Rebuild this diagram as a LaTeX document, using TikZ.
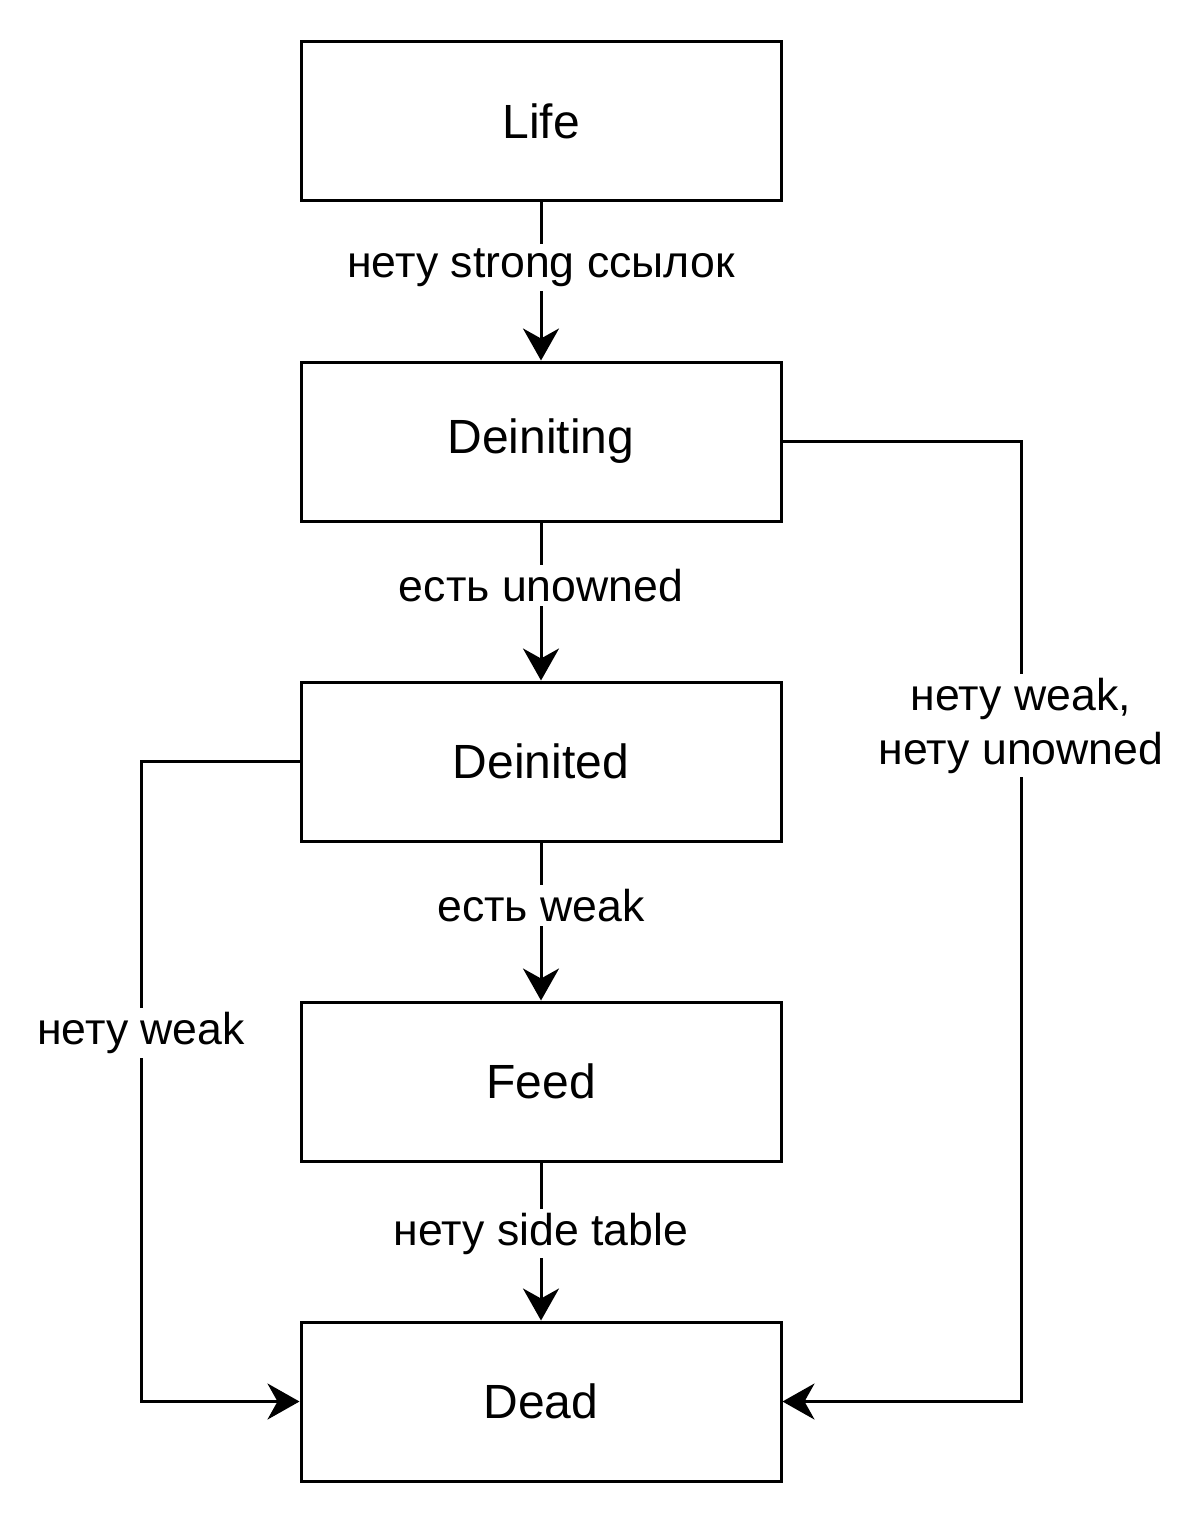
\documentclass[tikz,border=0pt]{standalone}
\usepackage{fontspec}
\setmainfont{Liberation Sans}
\usetikzlibrary{arrows.meta}
\begin{document}
\begin{tikzpicture}[x=0.5pt,y=-0.5pt,
  state/.style={draw,line width=1.5pt,minimum width=240pt,minimum height=79.5pt,inner sep=0pt,font=\fontsize{24}{28}\selectfont},
  conn/.style={line width=1.5pt,-{Stealth[length=16pt,width=18pt,inset=5pt]}},
  lbl/.style={fill=white,inner sep=2pt,font=\fontsize{22.3}{27}\selectfont,align=center}]
\useasboundingbox (0,0) rectangle (1200,1524);
\node[state] (life) at (541,121.5) {Life};
\node[state] (deiniting) at (541,441.5) {Deiniting};
\node[state] (deinited) at (541,761.5) {Deinited};
\node[state] (feed) at (541,1081.5) {Feed};
\node[state] (dead) at (541,1401.5) {Dead};
\draw[conn] (life) -- node[lbl,yshift=7pt] {нету strong ссылок} (deiniting);
\draw[conn] (deiniting) -- node[lbl,yshift=8pt] {есть unowned} (deinited);
\draw[conn] (deinited) -- node[lbl,yshift=8pt] {есть weak} (feed);
\draw[conn] (feed) -- node[lbl,yshift=4pt] {нету side table} (dead);
\coordinate (r1) at (1021,441.5);
\coordinate (r2) at (1021,1401.5);
\draw[conn] (deiniting.east) -- (r1) -- node[lbl,pos=0.3,yshift=2pt] {нету weak,\\нету unowned} (r2) -- (dead.east);
\coordinate (l1) at (141,761.5);
\coordinate (l2) at (141,1401.5);
\draw[conn] (deinited.west) -- (l1) -- node[lbl,pos=0.415,yshift=-3pt] {нету weak} (l2) -- (dead.west);
\end{tikzpicture}
\end{document}
